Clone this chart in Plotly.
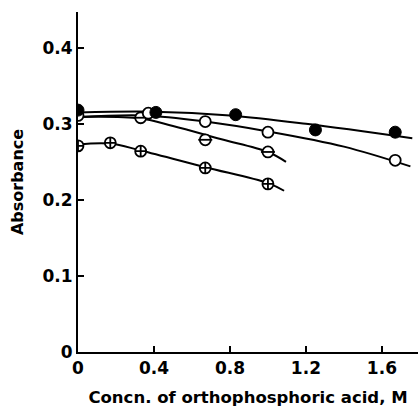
import plotly.graph_objects as go

# Measured absorbance vs. orthophosphoric acid concentration (M)
filled_x = [0.0, 0.41, 0.83, 1.25, 1.67]
filled_y = [0.318, 0.315, 0.312, 0.292, 0.289]

open_x = [0.0, 0.37, 0.67, 1.0, 1.67]
open_y = [0.311, 0.314, 0.303, 0.289, 0.252]

bar_x = [0.33, 0.67, 1.0]
bar_y = [0.308, 0.279, 0.263]

cross_x = [0.0, 0.17, 0.33, 0.67, 1.0]
cross_y = [0.271, 0.275, 0.264, 0.242, 0.221]

# Smoothed curves drawn through each set
filled_curve_x = [0.0, 0.4, 0.8, 1.2, 1.76]
filled_curve_y = [0.315, 0.316, 0.311, 0.300, 0.281]

open_curve_x = [0.0, 0.35, 0.67, 1.0, 1.4, 1.75]
open_curve_y = [0.309, 0.311, 0.303, 0.290, 0.270, 0.244]

bar_curve_x = [0.0, 0.33, 0.5, 0.75, 1.0, 1.095]
bar_curve_y = [0.309, 0.307, 0.297, 0.280, 0.263, 0.250]

cross_curve_x = [0.0, 0.17, 0.33, 0.67, 1.0, 1.085]
cross_curve_y = [0.273, 0.274, 0.265, 0.243, 0.222, 0.212]

x_ticks = [0, 0.4, 0.8, 1.2, 1.6]
x_tick_text = ["0", "0.4", "0.8", "1.2", "1.6"]
y_ticks = [0, 0.1, 0.2, 0.3, 0.4]
y_tick_text = ["0", "0.1", "0.2", "0.3", "0.4"]

INK = "black"
FONT = "DejaVu Sans"

fig = go.Figure()

for cx, cy in [(filled_curve_x, filled_curve_y), (open_curve_x, open_curve_y),
               (bar_curve_x, bar_curve_y), (cross_curve_x, cross_curve_y)]:
    fig.add_trace(go.Scatter(x=cx, y=cy, mode="lines",
                             line=dict(color=INK, width=2, shape="spline", smoothing=1.0),
                             hoverinfo="skip"))

mk = 11
# circle with a plus
fig.add_trace(go.Scatter(x=cross_x, y=cross_y, mode="markers",
                         marker=dict(symbol="circle-cross", size=mk, color="white",
                                     line=dict(color=INK, width=1.8))))
# circle with a horizontal bar
fig.add_trace(go.Scatter(x=bar_x, y=bar_y, mode="markers",
                         marker=dict(symbol="circle", size=mk, color="white",
                                     line=dict(color=INK, width=1.8))))
fig.add_trace(go.Scatter(x=bar_x, y=bar_y, mode="markers",
                         marker=dict(symbol="line-ew", size=mk - 1, color=INK,
                                     line=dict(color=INK, width=1.8))))
# open circles
fig.add_trace(go.Scatter(x=open_x, y=open_y, mode="markers",
                         marker=dict(symbol="circle", size=mk, color="white",
                                     line=dict(color=INK, width=1.8))))
# filled circles
fig.add_trace(go.Scatter(x=filled_x, y=filled_y, mode="markers",
                         marker=dict(symbol="circle", size=mk + 1, color=INK,
                                     line=dict(color=INK, width=1))))

fig.update_layout(
    width=418, height=407,
    margin=dict(l=78, r=0, t=12, b=55),
    paper_bgcolor="white", plot_bgcolor="white",
    showlegend=False,
    font=dict(family=FONT, color=INK),
)
fig.update_xaxes(
    range=[0, 1.79], showgrid=False, zeroline=False,
    showline=True, linecolor=INK, linewidth=2,
    ticks="inside", ticklen=6, tickwidth=2, tickcolor=INK,
    tickvals=x_ticks, ticktext=x_tick_text,
    tickfont=dict(family=FONT, size=17, color=INK, weight="bold"),
    title=dict(text="Concn. of orthophosphoric acid, M",
               font=dict(family=FONT, size=16.5, color=INK, weight="bold"), standoff=15),
)
fig.update_yaxes(
    range=[0, 0.447], showgrid=False, zeroline=False,
    showline=True, linecolor=INK, linewidth=2,
    ticks="inside", ticklen=6, tickwidth=2, tickcolor=INK,
    tickvals=y_ticks, ticktext=y_tick_text,
    tickfont=dict(family=FONT, size=17, color=INK, weight="bold"),
    title=dict(text="Absorbance",
               font=dict(family=FONT, size=16, color=INK, weight="bold"), standoff=15),
)

fig.write_html("out.html")
